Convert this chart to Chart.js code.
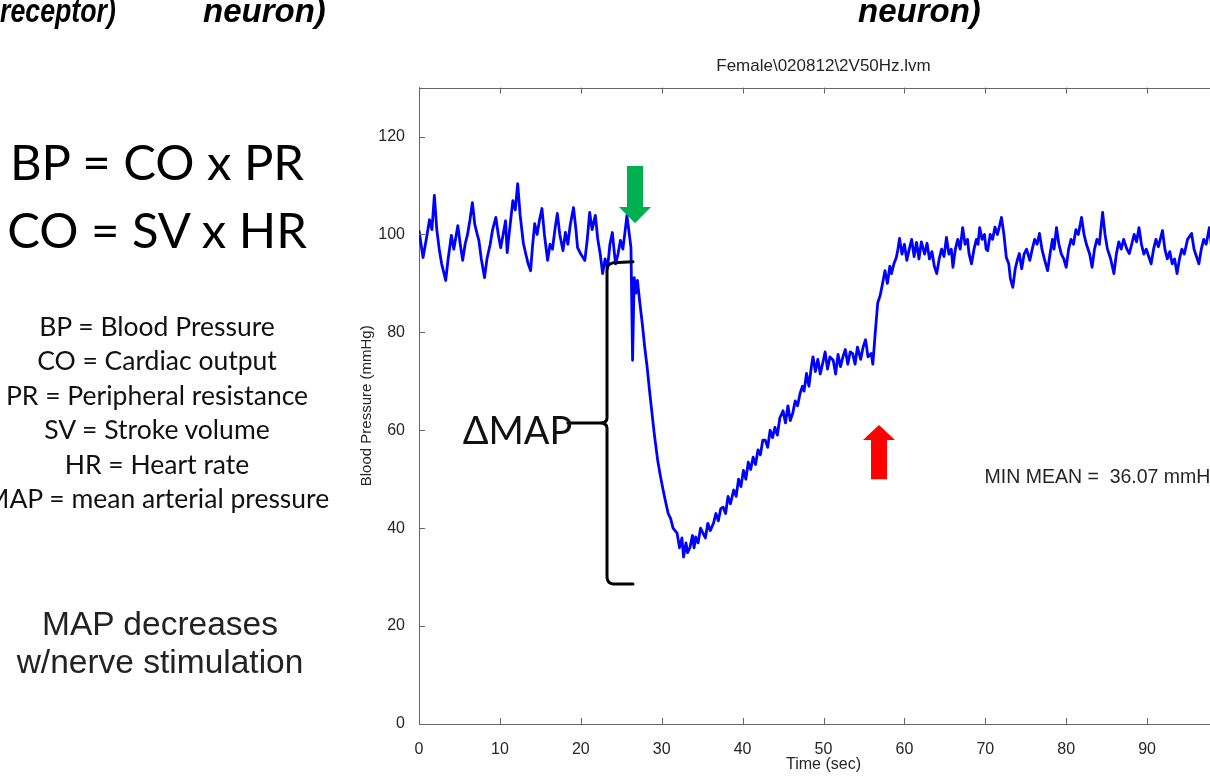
<!DOCTYPE html>
<html>
<head>
<meta charset="utf-8">
<script src="https://cdn.jsdelivr.net/npm/chart.js@4/dist/chart.umd.min.js"></script>
<style>
  html, body { margin: 0; padding: 0; background: #fff; overflow: hidden; }
  body { width: 1210px; height: 778px; position: relative; }
  #bp { position: absolute; left: 0; top: 0; }
  .t { position: absolute; white-space: nowrap; z-index: 2; }
  .c { transform: translateX(-50%); }
  .head { font: italic bold 33px "Liberation Sans", Arial, sans-serif; line-height: 33px; top: -6px; color: #000; }
  .eq { font: 49px Lato, sans-serif; line-height: 49px; left: 157px; color: #000; }
  .def { font: 26.5px Lato, sans-serif; line-height: 26px; left: 157px; color: #111; }
  .note { font: 33.5px "Liberation Sans", Arial, sans-serif; line-height: 32px; left: 160px; color: #222; }
</style>
</head>
<body>
<div class="t head" style="left:0;transform:scaleX(0.81);transform-origin:0 0">receptor)</div>
<div class="t head" style="left:203px">neuron)</div>
<div class="t head" style="left:858px">neuron)</div>

<div class="t c eq" style="top:137px">BP = CO x PR</div>
<div class="t c eq" style="top:205px">CO = SV x HR</div>

<div class="t c def" style="top:313px">BP = Blood Pressure</div>
<div class="t c def" style="top:347px">CO = Cardiac output</div>
<div class="t c def" style="top:382px">PR = Peripheral resistance</div>
<div class="t c def" style="top:416px">SV = Stroke volume</div>
<div class="t c def" style="top:451px">HR = Heart rate</div>
<div class="t c def" style="top:485px">MAP = mean arterial pressure</div>

<div class="t c note" style="top:608px">MAP decreases</div>
<div class="t c note" style="top:646px">w/nerve stimulation</div>

<canvas id="bp" width="1250" height="778"></canvas>

<script>
// recording: time (s) and blood pressure (mmHg)
const timeSec = [
  0, 0.5, 0.9, 1.3, 1.6, 1.9, 2.2, 2.5, 2.8, 3.1, 3.3, 3.6, 4.0, 4.3, 4.8, 5.1, 5.4, 5.7, 6.0, 6.3,
  6.6, 6.9, 7.2, 7.4, 7.7, 8.1, 8.4, 8.8, 9.1, 9.5, 9.8, 10.1, 10.4, 10.7, 10.9, 11.2, 11.6, 11.9, 12.2, 12.5,
  12.9, 13.2, 13.5, 13.8, 14.0, 14.3, 14.6, 14.9, 15.2, 15.5, 15.9, 16.2, 16.5, 16.8, 17.1, 17.4, 17.8, 18.1, 18.4, 18.7,
  19.1, 19.4, 19.6, 20.0, 20.5, 20.8, 21.1, 21.4, 21.8, 22.1, 22.4, 22.7, 23.0, 23.3, 23.6, 23.9, 24.1, 24.3, 24.6, 24.9,
  25.2, 25.5, 25.7, 26.0, 26.2, 26.4, 26.6, 26.8, 27.0, 27.3, 27.6, 27.9, 28.2, 28.5, 28.8, 29.1, 29.5, 29.8, 30.1, 30.4,
  30.8, 31.1, 31.4, 31.9, 32.2, 32.5, 32.7, 33.0, 33.2, 33.5, 33.8, 34.0, 34.2, 34.5, 34.8, 35.1, 35.4, 35.7, 36.0, 36.4,
  36.7, 37.0, 37.3, 37.6, 37.9, 38.2, 38.5, 38.9, 39.2, 39.5, 39.8, 40.1, 40.4, 40.7, 41.0, 41.3, 41.6, 41.9, 42.2, 42.5,
  42.8, 43.1, 43.4, 43.7, 44.0, 44.3, 44.6, 45.0, 45.3, 45.6, 45.9, 46.2, 46.5, 46.8, 47.1, 47.4, 47.6, 47.9, 48.2, 48.5,
  48.7, 49.0, 49.3, 49.6, 49.9, 50.2, 50.5, 50.8, 51.2, 51.5, 51.8, 52.1, 52.4, 52.7, 53.0, 53.3, 53.6, 53.9, 54.2, 54.6,
  54.9, 55.2, 55.5, 55.9, 56.1, 56.4, 56.7, 57.0, 57.3, 57.6, 57.9, 58.2, 58.4, 58.7, 59.0, 59.2, 59.4, 59.7, 60.0, 60.3,
  60.6, 60.9, 61.2, 61.5, 61.8, 62.1, 62.5, 62.8, 63.1, 63.4, 63.7, 64.0, 64.3, 64.6, 64.9, 65.2, 65.5, 65.8, 66.0, 66.3,
  66.6, 66.9, 67.2, 67.5, 67.8, 68.0, 68.3, 68.6, 68.9, 69.1, 69.3, 69.6, 69.9, 70.1, 70.3, 70.6, 70.9, 71.2, 71.5, 71.8,
  72.0, 72.3, 72.6, 72.9, 73.1, 73.4, 73.7, 74.0, 74.2, 74.5, 74.8, 75.1, 75.5, 75.8, 76.1, 76.4, 76.7, 77.0, 77.3, 77.7,
  78.0, 78.3, 78.5, 78.8, 79.1, 79.4, 79.7, 80.0, 80.3, 80.6, 80.9, 81.2, 81.5, 81.9, 82.2, 82.5, 82.9, 83.2, 83.5, 83.8,
  84.1, 84.5, 84.8, 85.1, 85.5, 85.9, 86.2, 86.5, 86.8, 87.1, 87.5, 87.8, 88.1, 88.4, 88.7, 89.0, 89.3, 89.6, 89.9, 90.2,
  90.5, 90.8, 91.1, 91.4, 91.9, 92.2, 92.5, 92.8, 93.1, 93.4, 93.7, 94.0, 94.3, 94.6, 95.0, 95.5, 95.8, 96.1, 96.4, 96.7,
  97.0, 97.3, 97.7, 98.0, 98.5, 99.0, 99.5, 100
];
const pressure = [
  100.8, 95.3, 99, 103, 101, 108, 101, 97, 94, 92, 90.6, 95, 99.8, 97, 101.8, 98, 94.7, 98, 100, 103,
  106.5, 102, 100, 98.8, 95, 91.2, 95, 98, 101, 103.5, 100, 97.3, 100, 102.8, 96.3, 101, 106.9, 105, 110.4, 104,
  98.2, 96, 94, 92.6, 97, 102.2, 100, 103, 105.3, 100, 94.7, 98, 97, 101, 104.3, 100, 96.7, 100.4, 98, 102,
  105.5, 101, 97.3, 96, 94.7, 99, 104.5, 101, 103.9, 99, 96, 92, 95, 93, 98, 100.4, 97, 94, 96, 98.8,
  97, 101, 103.9, 100, 97.3, 74.3, 91.2, 88, 90.6, 86, 81.8, 77, 72.9, 68, 63.5, 59, 53.9, 51, 48.4, 46,
  43, 42, 40, 39, 36, 38, 34.1, 37, 35, 36.1, 38.5, 36, 38.2, 37, 40, 39, 38, 41, 39.5, 41,
  43, 41.5, 44, 44.3, 43, 46.5, 45, 47.8, 46.5, 50, 48.5, 51.8, 50, 53.5, 52, 54.5, 53, 56, 55, 58,
  58, 56.5, 60, 58.5, 60.6, 59, 62.5, 64, 61.5, 65, 62, 63.5, 66, 65, 67.5, 69, 68, 71.6, 69, 73,
  75, 72, 74.5, 71.5, 73.7, 76, 72.5, 75, 74.3, 71.5, 75.5, 73, 75, 76.5, 73.5, 76, 75.7, 73.5, 77, 74.5,
  77, 78.5, 75, 75.7, 73.5, 80, 86, 87.5, 90, 92.6, 90, 93.5, 92, 94, 95.3, 97, 99.2, 96, 98, 94.7,
  97, 99, 95.5, 98.4, 95, 98.5, 96, 98.2, 95, 96.5, 93.5, 92, 95, 97, 95.5, 99.4, 96, 97, 93.3, 97,
  99, 97, 101.4, 98, 99, 96, 94, 97, 99, 98, 101.4, 99, 100, 97, 96.7, 100, 99, 101.5, 100, 102,
  103.5, 100, 95.3, 94, 91, 89.2, 93, 95, 96.1, 93, 96, 97, 94.7, 97, 99, 98, 100.2, 97, 95, 92.6,
  96, 99, 97, 101.4, 98, 96, 95, 93.3, 97, 99, 98, 101, 100, 103.5, 100, 98, 96, 93.3, 97, 99,
  98, 104.5, 100, 97, 95, 92, 96, 98.5, 97, 99, 97, 96.1, 98, 100, 98.5, 101.4, 98, 96, 97, 95.5,
  94, 97, 99, 97.5, 100.8, 97, 95, 96.5, 94, 95, 92, 95, 97, 96, 99, 100.2, 97, 95.5, 94, 97,
  99, 98, 101.4, 97, 95, 98, 96, 99
];

const chartTitle = 'Female\\020812\\2V50Hz.lvm';
const xLabel = 'Time (sec)';
const yLabel = 'Blood Pressure (mmHg)';
const minMeanText = 'MIN MEAN =  36.07 mmHg';

// annotation anchors, in data units (sec, mmHg)
const stimOn = { t: 26.7, tip: 102.3, head: 105.6, tail: 114 };
const stimOff = { t: 56.86, tip: 61.1, head: 58.0, tail: 50.0 };
const brace = { t: 23.24, hookT: 26.45, top: 94.2, bottom: 28.8, mid: 61.5, tipT: 18.4 };
const deltaLabel = { t: 5.4, v: 57.2 };
const minMeanPos = { t: 69.9, v: 50.3 };

const axisFont = { family: '"Liberation Sans", Arial, sans-serif', size: 16 };
const ink = '#262626';

function drawArrow(ctx, cx, tipY, headY, tailY, color) {
  const sw = 8, hw = 16;
  ctx.fillStyle = color;
  ctx.beginPath();
  ctx.moveTo(cx, tipY);
  ctx.lineTo(cx + hw, headY);
  ctx.lineTo(cx + sw, headY);
  ctx.lineTo(cx + sw, tailY);
  ctx.lineTo(cx - sw, tailY);
  ctx.lineTo(cx - sw, headY);
  ctx.lineTo(cx - hw, headY);
  ctx.closePath();
  ctx.fill();
}

// matlab-ish box: top edge + inward ticks
const matlabFrame = {
  id: 'matlabFrame',
  afterDraw(chart) {
    const { ctx, chartArea: a, scales: { x, y } } = chart;
    ctx.save();
    ctx.strokeStyle = '#666';
    ctx.lineWidth = 1;
    ctx.beginPath();
    ctx.moveTo(a.left, Math.round(a.top) + 0.5);
    ctx.lineTo(a.right, Math.round(a.top) + 0.5);
    x.ticks.forEach(tk => {
      const p = Math.round(x.getPixelForValue(tk.value)) + 0.5;
      ctx.moveTo(p, a.bottom); ctx.lineTo(p, a.bottom - 6);
      ctx.moveTo(p, a.top); ctx.lineTo(p, a.top + 6);
    });
    y.ticks.forEach(tk => {
      const p = Math.round(y.getPixelForValue(tk.value)) + 0.5;
      ctx.moveTo(a.left, p); ctx.lineTo(a.left + 6, p);
    });
    ctx.stroke();
    ctx.restore();
  }
};

const marks = {
  id: 'marks',
  afterDatasetsDraw(chart) {
    const { ctx, scales: { x, y } } = chart;
    const px = v => x.getPixelForValue(v), py = v => y.getPixelForValue(v);
    ctx.save();

    drawArrow(ctx, px(stimOn.t), py(stimOn.tip), py(stimOn.head), py(stimOn.tail), '#00b050');
    drawArrow(ctx, px(stimOff.t), py(stimOff.tip), py(stimOff.head), py(stimOff.tail), '#ff0000');

    // brace for delta MAP
    const bx = px(brace.t), hx = px(brace.hookT), top = py(brace.top), bot = py(brace.bottom);
    const my = py(brace.mid), tx = px(brace.tipT);
    ctx.strokeStyle = '#000';
    ctx.lineWidth = 3;
    ctx.lineCap = 'round';
    ctx.lineJoin = 'round';
    ctx.beginPath();
    ctx.moveTo(hx, top - 1);
    ctx.lineTo(bx + 6, top);
    ctx.quadraticCurveTo(bx, top + 1, bx, top + 7);
    ctx.lineTo(bx, my - 5);
    ctx.quadraticCurveTo(bx, my, bx - 7, my);
    ctx.quadraticCurveTo(bx, my, bx, my + 5);
    ctx.lineTo(bx, bot - 6);
    ctx.quadraticCurveTo(bx, bot, bx + 6, bot + 1);
    ctx.lineTo(hx, bot + 1);
    ctx.moveTo(bx - 7, my);
    ctx.lineTo(tx, my);
    ctx.stroke();

    ctx.fillStyle = '#111';
    ctx.font = '38px Lato, sans-serif';
    ctx.textBaseline = 'alphabetic';
    ctx.fillText('\u0394MAP', px(deltaLabel.t), py(deltaLabel.v));

    ctx.fillStyle = ink;
    ctx.font = '19.5px "Liberation Sans", Arial, sans-serif';
    ctx.textBaseline = 'middle';
    ctx.fillText(minMeanText, px(minMeanPos.t), py(minMeanPos.v));
    ctx.restore();
  }
};

new Chart(document.getElementById('bp'), {
  type: 'line',
  data: {
    datasets: [{
      data: timeSec.map((t, i) => ({ x: t, y: pressure[i] })),
      borderColor: '#0000ff',
      borderWidth: 2.8,
      pointRadius: 0,
      tension: 0,
      borderJoinStyle: 'round'
    }]
  },
  options: {
    responsive: false,
    animation: false,
    layout: { padding: { left: 340, right: 22, top: 0, bottom: 0 } },
    plugins: {
      legend: { display: false },
      tooltip: { enabled: false },
      title: {
        display: true,
        text: chartTitle,
        fullSize: false,
        color: ink,
        font: { family: axisFont.family, size: 17, weight: 'normal' },
        padding: { top: 56, bottom: 11.2 }
      }
    },
    scales: {
      x: {
        type: 'linear',
        min: 0, max: 100,
        grid: { display: false },
        border: { display: true, color: '#666', width: 1 },
        ticks: { stepSize: 10, includeBounds: false, color: ink, font: axisFont, padding: 8, maxRotation: 0 },
        title: { display: true, text: xLabel, color: ink, font: axisFont, padding: { top: 0, bottom: 4 } },
        afterFit(scale) { scale.height = 54; }
      },
      y: {
        min: 0, max: 130,
        grid: { display: false },
        border: { display: true, color: '#666', width: 1 },
        ticks: { stepSize: 20, includeBounds: false, color: ink, font: axisFont, padding: 6 },
        title: { display: true, text: yLabel, color: ink, font: { family: axisFont.family, size: 15 }, padding: { top: 18, bottom: 0 } },
        afterFit(scale) { scale.width = 79; }
      }
    }
  },
  plugins: [matlabFrame, marks]
});
</script>
</body>
</html>
